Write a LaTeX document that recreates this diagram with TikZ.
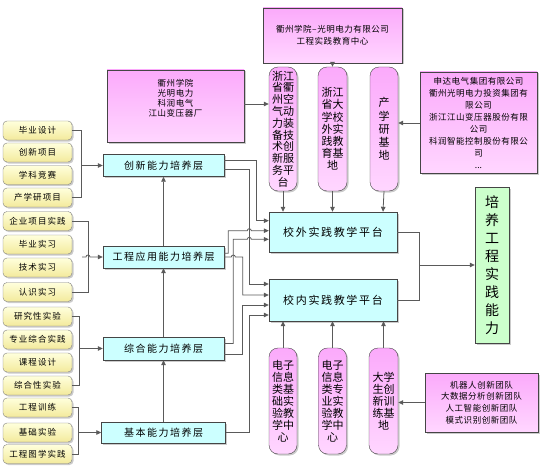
\documentclass[tikz,border=0pt]{standalone}
\usepackage{fontspec}
\setmainfont{Noto Sans CJK SC}
\newfontfamily\cjkA[LetterSpace=12]{Noto Sans CJK SC}
\newfontfamily\cjkB[LetterSpace=15]{Noto Sans CJK SC}
\newfontfamily\cjkC[LetterSpace=6]{Noto Sans CJK SC}
\usetikzlibrary{arrows.meta,shadows}
\definecolor{pinkT}{HTML}{FBAAFB}
\definecolor{pinkB}{HTML}{FFD6FF}
\definecolor{yelT}{HTML}{FFFFDC}
\definecolor{yelB}{HTML}{F3EA9C}
\definecolor{cyanF}{HTML}{CCFFFF}
\definecolor{greenF}{HTML}{CCFFCC}
\definecolor{lineC}{HTML}{5A5A5A}
\definecolor{edgeC}{HTML}{454545}
\begin{document}
\begin{tikzpicture}[x=1pt,y=-1pt,
  shad/.style={drop shadow={shadow xshift=1.5pt,shadow yshift=-1.5pt,fill=black!45,opacity=0.45}},
  itembox/.style={shad,draw=black!50,rounded corners=4pt,top color=yelT,bottom color=yelB,
    minimum width=69pt,minimum height=19pt,inner sep=0pt,font=\fontsize{8.5}{10}\cjkA},
  layerbox/.style={shad,draw=edgeC,fill=cyanF,minimum width=121pt,minimum height=22pt,inner sep=0pt,
    font=\fontsize{10}{12}\cjkB},
  platbox/.style={shad,draw=edgeC,fill=cyanF,minimum width=128pt,inner sep=0pt,
    font=\fontsize{11}{13}\cjkB},
  pillarbox/.style={shad,draw=edgeC,rounded corners=9pt,top color=pinkT,bottom color=pinkB,
    inner sep=0pt,align=center,font=\fontsize{11}{12}\selectfont},
  pinkbox/.style={shad,draw=edgeC,top color=pinkT,bottom color=pinkB,inner sep=0pt},
  boxtext/.style={align=center,inner sep=0pt,font=\fontsize{8.5}{12}\cjkC},
  greenbox/.style={shad,draw=edgeC,fill=greenF,inner sep=0pt,align=center,font=\fontsize{14}{18}\selectfont},
  conn/.style={draw=lineC,line width=0.8pt},
  arr/.style={conn,-{Triangle[length=5pt,width=4.5pt]}}
]
\useasboundingbox (0,0) rectangle (543,468);

% left items
\node[itembox] (i1) at (37.5,130.5) {毕业设计};
\node[itembox] (i2) at (37.5,152.5) {创新项目};
\node[itembox] (i3) at (37.5,175) {学科竞赛};
\node[itembox] (i4) at (37.5,197.5) {产学研项目};
\node[itembox] (i5) at (37.5,221) {企业项目实践};
\node[itembox] (i6) at (37.5,244.5) {毕业实习};
\node[itembox] (i7) at (37.5,267.5) {技术实习};
\node[itembox] (i8) at (37.5,292) {认识实习};
\node[itembox] (i9) at (37.5,316.5) {研究性实验};
\node[itembox] (i10) at (37.5,339.5) {专业综合实践};
\node[itembox] (i11) at (37.5,362.5) {课程设计};
\node[itembox] (i12) at (37.5,385.5) {综合性实验};
\node[itembox] (i13) at (37.5,407.5) {工程训练};
\node[itembox] (i14) at (37.5,432.5) {基础实验};
\node[itembox] (i15) at (37.5,454) {工程图学实践};

% layers
\node[layerbox] (L1) at (163.5,165.5) {创新能力培养层};
\node[layerbox] (L2) at (163.5,257) {工程应用能力培养层};
\node[layerbox,minimum height=23pt] (L3) at (163.5,348.5) {综合能力培养层};
\node[layerbox,minimum width=124pt,minimum height=21pt] (L4) at (163.5,432.5) {基本能力培养层};

% platforms
\node[platbox,minimum height=40pt] (P1) at (333,232) {校外实践教学平台};
\node[platbox,minimum height=42pt] (P2) at (333,300) {校内实践教学平台};

% top box and side boxes
\node[pinkbox,minimum width=139pt,minimum height=55pt,boxtext] (TB) at (332.5,35.5)
  {衢州学院–光明电力有限公司\\工程实践教育中心};
\node[pinkbox,minimum width=137pt,minimum height=72pt] (LB) at (175.5,106) {};
\node[boxtext,font=\fontsize{8.5}{10}\cjkC] (LBt) at (175.5,98) {衢州学院\\光明电力\\科润电气\\江山变压器厂};
\node[pinkbox,minimum width=117pt,minimum height=101pt,boxtext] (RB) at (478.5,122.5)
  {申达电气集团有限公司\\衢州光明电力投资集团有\\限公司\\浙江江山变压器股份有限\\公司\\科润智能控制股份有限公\\司\\{\normalfont ...}};
\node[pinkbox,minimum width=113pt,minimum height=59pt,boxtext,font=\fontsize{8.5}{11.7}\cjkC] (BR) at (481.5,402.5)
  {机器人创新团队\\大数据分析创新团队\\人工智能创新团队\\模式识别创新团队};

% pillars
\node[pillarbox,minimum width=28pt,minimum height=124pt,font=\fontsize{11}{11.8}\selectfont] (T1) at (283,129)
  {浙江\\省衢\\州空\\气动\\力装\\备技\\术创\\新服\\务平\\台};
\node[pillarbox,minimum width=29pt,minimum height=124pt,font=\fontsize{11}{12.2}\selectfont] (T2) at (332.5,129)
  {浙江\\省大\\学校\\外实\\践教\\育基\\地};
\node[pillarbox,minimum width=28pt,minimum height=124pt,font=\fontsize{11}{13.3}\selectfont] (T3) at (384,129)
  {产\\学\\研\\基\\地};
\node[pillarbox,minimum width=28pt,minimum height=106pt] (B1) at (283,401)
  {电子\\信息\\类基\\础实\\验教\\学中\\心};
\node[pillarbox,minimum width=28pt,minimum height=106pt] (B2) at (332.5,401)
  {电子\\信息\\类专\\业实\\验教\\学中\\心};
\node[pillarbox,minimum width=29pt,minimum height=106pt] (B3) at (383.5,401)
  {大学\\生创\\新训\\练基\\地};

% green box
\node[greenbox,minimum width=34pt,minimum height=156pt] (G) at (492,265)
  {培\\养\\工\\程\\实\\践\\能\\力};

% item brackets
\draw[conn] (i1.east) -- ++(9,0) |- (i4.east);
\coordinate (g1) at (81,165.5);
\draw[arr] (g1) -- (L1.west);
\draw[conn] (i5.east) -- ++(16,0) |- (i8.east);
\coordinate (g2) at (82,257);
\draw[arr] (g2) -- (86,257) arc[start angle=180,end angle=0,radius=2pt] -- (L2.west);
\draw[conn] (i9.east) -- ++(7,0) |- (i12.east);
\coordinate (g3) at (79,348.5);
\draw[arr] (g3) -- (L3.west);
\draw[conn] (i13.east) -- ++(6,0) |- (i15.east);
\coordinate (g4) at (78,432.5);
\draw[arr] (g4) -- (L4.west);

% layer chain
\draw[arr] (L4.north) -- (L3.south);
\draw[arr] (L3.north) -- (L2.south);
\draw[arr] (L2.north) -- (L1.south);

% layers to platforms
\draw[arr] ([yshift=4.8pt]L1.east) -- (256.7,160.7) |- ([yshift=11.3pt]P1.west);
\draw[arr] ([yshift=-3.8pt]L1.east) -- (249.3,169.3) |- ([yshift=16pt]P2.west);
\draw[arr] ([yshift=3.7pt]L2.east) -- (228.3,253.3) -- (228.3,230.7) -- (247.3,230.7)
  arc[start angle=180,end angle=0,radius=2pt] -- ([yshift=1.3pt]P1.west);
\draw[arr] (L2.east) -- (231.3,257) arc[start angle=180,end angle=0,radius=2pt]
  -- (242.7,257) |- ([yshift=5pt]P2.west);
\draw[arr] ([yshift=5pt]L3.east) -- (233.3,343.5) -- (233.3,239.3) -- (247.3,239.3)
  arc[start angle=180,end angle=0,radius=2pt] -- ([yshift=-7.3pt]P1.west);
\draw[arr] ([yshift=-5.5pt]L3.east) -- (242.7,354) |- ([yshift=-5pt]P2.west);
\draw[arr] (L4.east) -- (249.3,432.5) |- ([yshift=-15pt]P2.west);

% pillars to platforms
\draw[arr] (TB.south) -- (T2.north);
\draw[arr] (LB.east |- 0,104) -- (T1.west |- 0,104);
\draw[arr] (RB.west |- 0,123) -- (T3.east |- 0,123);
\draw[arr] (T1.south) -- (T1.south |- P1.north);
\draw[arr] (T2.south) -- (T2.south |- P1.north);
\draw[arr] (T3.south) -- ([xshift=-1pt]T3.south |- P1.north);
\draw[arr] (B1.north) -- (B1.north |- P2.south);
\draw[arr] (B2.north) -- (B2.north |- P2.south);
\draw[arr] (B3.north) -- (B3.north |- P2.south);
\draw[arr] (BR.west) -- (BR.west -| B3.east);

% platforms to goal
\coordinate (J) at (419,265);
\draw[conn] (P1.east) -| (J);
\draw[conn] (P2.east) -| (J);
\draw[arr] (J) -- (G.west);
\end{tikzpicture}
\end{document}
